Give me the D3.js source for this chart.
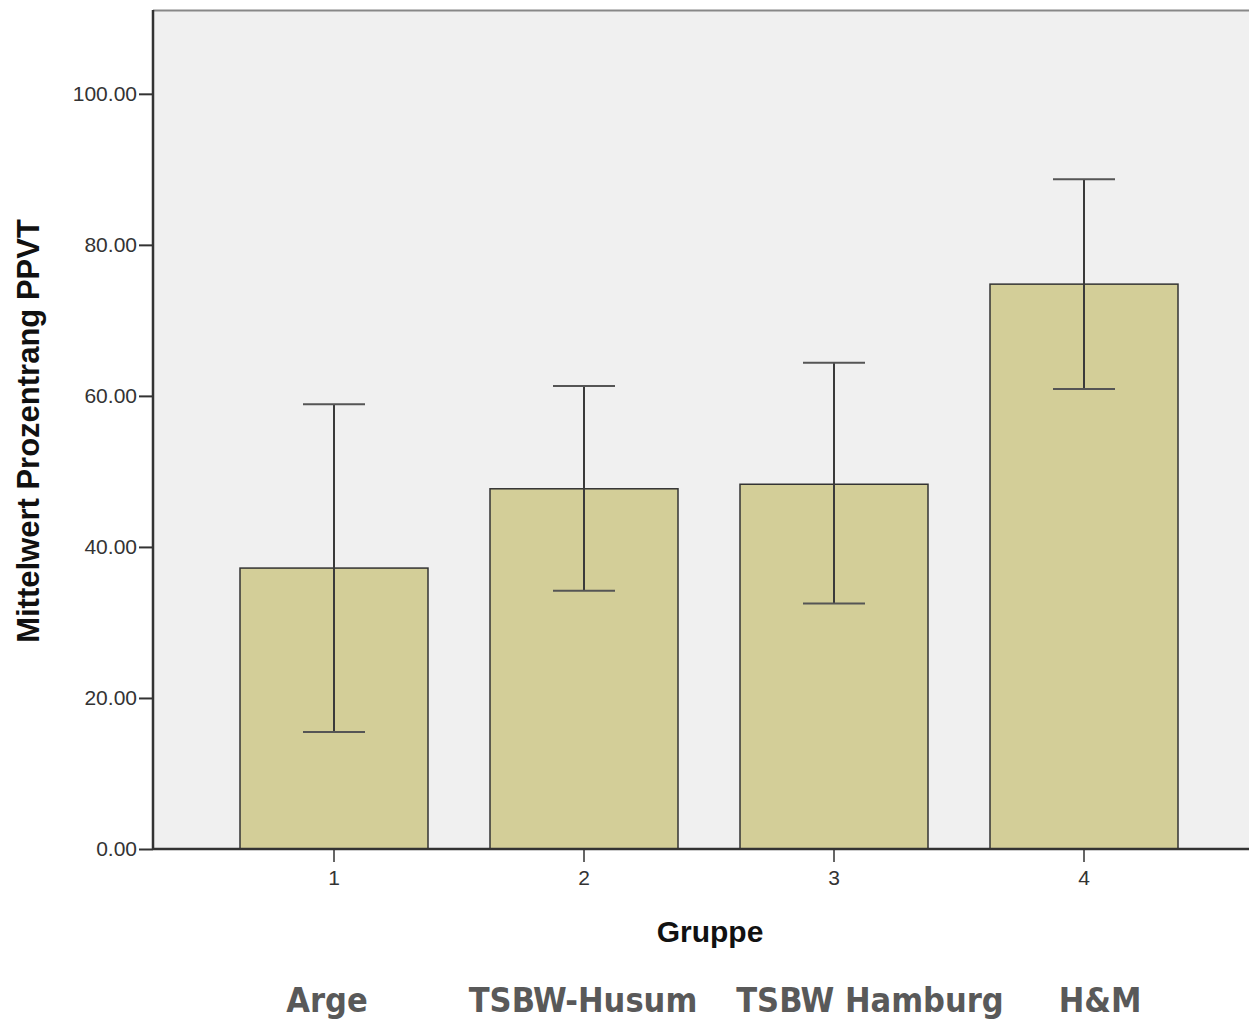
<!DOCTYPE html>
<html><head><meta charset="utf-8">
<script src="https://cdn.jsdelivr.net/npm/d3@7"></script>
<style>body{margin:0;background:#fff;}svg{display:block;}</style>
</head><body>
<svg id="c" width="1249" height="1023"></svg>
<script>
const categories = ["1","2","3","4"];
const means = [37.2, 47.7, 48.3, 74.8];
const ciLow = [15.5, 34.2, 32.5, 60.9];
const ciHigh = [58.9, 61.3, 64.4, 88.7];
const yTicks = [0,20,40,60,80,100];
const groupNames = ["Arge","TSBW-Husum","TSBW Hamburg","H&M"];
const groupNameX = [327, 583, 870, 1100];

(function(){
const svg = d3.select("#c");
const pL = 153, pT = 10, pB = 849, pR = 1260;
const y = d3.scaleLinear().domain([0, 111.1]).range([pB, pT]);
const x = d3.scaleBand().domain(categories).range([209, 1209]).paddingInner(0.248).paddingOuter(0.124);

svg.append("rect").attr("x", pL).attr("y", pT).attr("width", pR-pL).attr("height", pB-pT).attr("fill", "#f0f0f0");
svg.append("line").attr("x1", pL).attr("x2", pR).attr("y1", pT+0.5).attr("y2", pT+0.5).attr("stroke", "#888").attr("stroke-width", 2);

// bars
svg.selectAll("rect.bar").data(means).enter().append("rect").attr("class","bar")
  .attr("x", (d,i)=>x(categories[i])).attr("width", x.bandwidth())
  .attr("y", d=>y(d)).attr("height", d=>y(0)-y(d))
  .attr("fill", "#d3ce98").attr("stroke", "#333").attr("stroke-width", 1.5);

// error bars
const cx = i => x(categories[i]) + x.bandwidth()/2;
const capW = 31;
const eg = svg.append("g").attr("stroke", "#3a3a3a").attr("stroke-width", 2);
categories.forEach((c,i)=>{
  eg.append("line").attr("x1", cx(i)).attr("x2", cx(i)).attr("y1", y(ciLow[i])).attr("y2", y(ciHigh[i]));
  eg.append("line").attr("x1", cx(i)-capW).attr("x2", cx(i)+capW).attr("y1", y(ciLow[i])).attr("y2", y(ciLow[i])).attr("stroke","#555");
  eg.append("line").attr("x1", cx(i)-capW).attr("x2", cx(i)+capW).attr("y1", y(ciHigh[i])).attr("y2", y(ciHigh[i])).attr("stroke","#555");
});

// y axis
const yAxis = d3.axisLeft(y).tickValues(yTicks).tickSize(14).tickPadding(2).tickFormat(d3.format(".2f"));
const ya = svg.append("g").attr("transform", `translate(${pL},0)`).call(yAxis);
ya.select(".domain").remove();
ya.selectAll(".tick line").attr("stroke", "#333").attr("stroke-width", 2);
ya.selectAll(".tick text").attr("font-family", "Liberation Sans, Arial, sans-serif").attr("font-size", 21).attr("fill", "#333");
svg.append("line").attr("x1", pL).attr("x2", pL).attr("y1", pT).attr("y2", pB+1).attr("stroke", "#333").attr("stroke-width", 2.5);

// x axis
const xAxis = d3.axisBottom(x).tickSize(13).tickPadding(8);
const xa = svg.append("g").attr("transform", `translate(0,${pB})`).call(xAxis);
xa.select(".domain").remove();
xa.selectAll(".tick line").attr("stroke", "#333").attr("stroke-width", 1.5);
xa.selectAll(".tick text").attr("font-family", "Liberation Sans, Arial, sans-serif").attr("font-size", 21).attr("fill", "#333");
svg.append("line").attr("x1", pL).attr("x2", pR).attr("y1", pB).attr("y2", pB).attr("stroke", "#333").attr("stroke-width", 2.5);

// axis titles
svg.append("text").attr("transform", "translate(39,431) rotate(-90)").attr("text-anchor","middle")
  .attr("font-family","Liberation Sans, Arial, sans-serif").attr("font-weight","bold").attr("font-size",31).attr("fill","#111")
  .text("Mittelwert Prozentrang PPVT");
svg.append("text").attr("x", 710).attr("y", 942).attr("text-anchor","middle")
  .attr("font-family","Liberation Sans, Arial, sans-serif").attr("font-weight","bold").attr("font-size",30).attr("fill","#111")
  .text("Gruppe");

// group names
svg.selectAll("text.gn").data(groupNames).enter().append("text").attr("class","gn")
  .attr("x",(d,i)=>groupNameX[i]).attr("y",1012).attr("text-anchor","middle")
  .attr("font-family","DejaVu Sans Condensed, DejaVu Sans, sans-serif").attr("font-weight","bold").attr("font-size",34).attr("fill","#595959")
  .text(d=>d);
})();
</script>
</body></html>
